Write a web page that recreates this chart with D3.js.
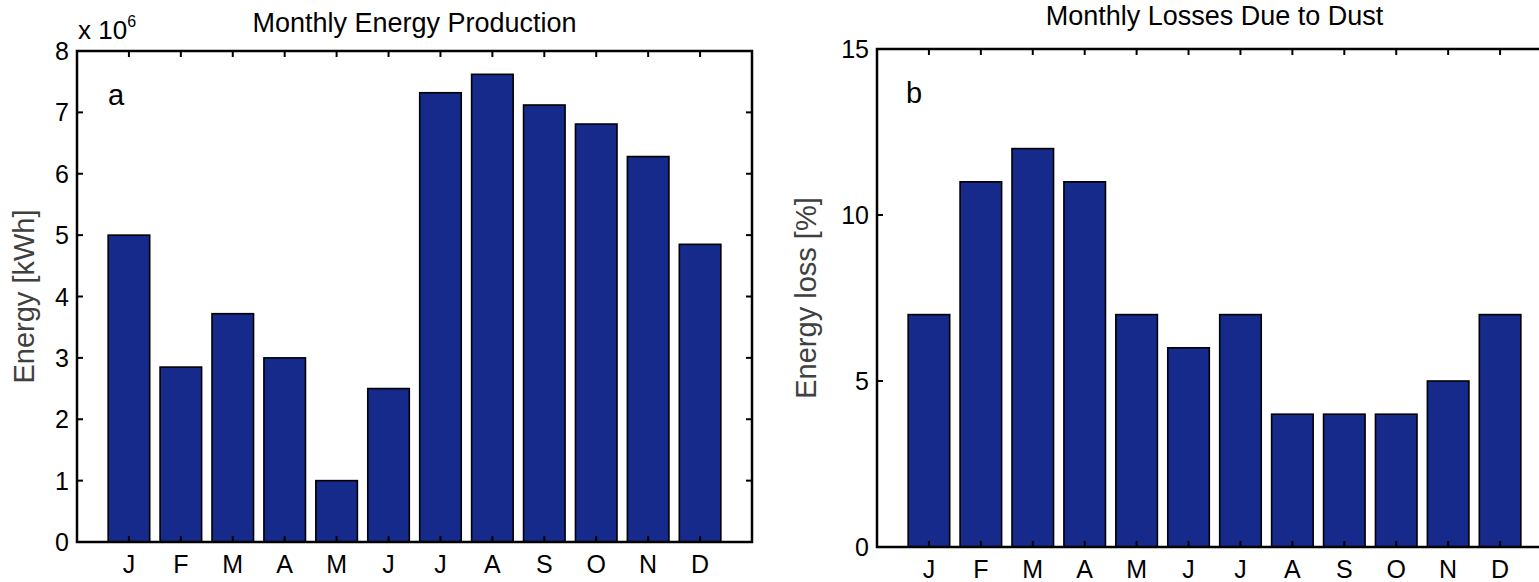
<!DOCTYPE html>
<html>
<head>
<meta charset="utf-8">
<script src="https://cdn.jsdelivr.net/npm/d3@7"></script>
<style>
  body { margin: 0; background: #fff; }
  svg { display: block; font-family: "Liberation Sans", Arial, sans-serif; }
</style>
</head>
<body>
<svg id="chart" width="1539" height="582"></svg>
<script>
// month labels
const months = ["J", "F", "M", "A", "M", "J", "J", "A", "S", "O", "N", "D"];
// panel a: energy in units of 10^6 kWh
const energyValues = [5.0, 2.85, 3.72, 3.0, 1.0, 2.5, 7.32, 7.62, 7.12, 6.81, 6.28, 4.85];
const energyTicks = [0, 1, 2, 3, 4, 5, 6, 7, 8];
// panel b: loss in %
const lossValues = [7, 11, 12, 11, 7, 6, 7, 4, 4, 4, 5, 7];
const lossTicks = [0, 5, 10, 15];

const svg = d3.select("#chart");
const barColor = "#152a8a";

function drawPanel(opts) {
    let g = svg.append("g");

    let x = d3.scaleLinear().domain([0, 13]).range([opts.left, opts.right]);
    let y = d3.scaleLinear().domain([0, opts.ymax]).range([opts.bottom, opts.top]);
    let bw = (x(1) - x(0)) * 0.8;

    // bars
    g.selectAll("rect.bar")
        .data(opts.values)
        .join("rect")
        .attr("class", "bar")
        .attr("x", (d, i) => x(i + 1) - bw / 2)
        .attr("y", d => y(d))
        .attr("width", bw)
        .attr("height", d => y(0) - y(d))
        .attr("fill", barColor)
        .attr("stroke", "#000")
        .attr("stroke-width", 1.6);

    // inward ticks on all four sides (matlab box style)
    let tl = 6;
    let ticks = g.append("g");
    opts.yticks.forEach(t => {
        ticks.append("line")
            .attr("x1", opts.left).attr("x2", opts.left + tl)
            .attr("y1", y(t)).attr("y2", y(t));
        ticks.append("line")
            .attr("x1", opts.right).attr("x2", opts.right - tl)
            .attr("y1", y(t)).attr("y2", y(t));
    });
    d3.range(1, 13).forEach(i => {
        ticks.append("line")
            .attr("x1", x(i)).attr("x2", x(i))
            .attr("y1", opts.top).attr("y2", opts.top + tl);
        ticks.append("line")
            .attr("x1", x(i)).attr("x2", x(i))
            .attr("y1", opts.bottom).attr("y2", opts.bottom - tl);
    });
    ticks.selectAll("line").attr("stroke", "#000").attr("stroke-width", 2);

    // box
    g.append("rect")
        .attr("x", opts.left).attr("y", opts.top)
        .attr("width", opts.right - opts.left)
        .attr("height", opts.bottom - opts.top)
        .attr("fill", "none")
        .attr("stroke", "#000")
        .attr("stroke-width", 2.5);

    // tick labels
    g.selectAll("text.ylab")
        .data(opts.yticks)
        .join("text")
        .attr("class", "ylab")
        .attr("x", opts.left - 8)
        .attr("y", d => y(d))
        .attr("dy", "0.36em")
        .attr("text-anchor", "end")
        .attr("font-size", 25)
        .text(d => d);

    g.selectAll("text.xlab")
        .data(months)
        .join("text")
        .attr("class", "xlab")
        .attr("x", (d, i) => x(i + 1))
        .attr("y", opts.bottom + 31)
        .attr("text-anchor", "middle")
        .attr("font-size", 25)
        .text(d => d);

    // title
    g.append("text")
        .attr("x", (opts.left + opts.right) / 2)
        .attr("y", opts.titleY)
        .attr("text-anchor", "middle")
        .attr("font-size", 27)
        .text(opts.title);

    // axis label
    g.append("text")
        .attr("transform", `translate(${opts.ylabelX},${(opts.top + opts.bottom) / 2}) rotate(-90)`)
        .attr("text-anchor", "middle")
        .attr("font-size", 29)
        .attr("fill", "#404040")
        .text(opts.ylabel);

    // panel letter
    g.append("text")
        .attr("x", opts.left + opts.letterDx)
        .attr("y", opts.top + 54)
        .attr("font-size", 29)
        .text(opts.letter);

    return g;
}

let pa = drawPanel({
    left: 77, right: 752, top: 51, bottom: 542,
    ymax: 8, values: energyValues, yticks: energyTicks,
    title: "Monthly Energy Production", titleY: 32,
    ylabel: "Energy [kWh]", ylabelX: 34, letter: "a", letterDx: 31
});

// exponent label
let expo = pa.append("text").attr("x", 78).attr("y", 39).attr("font-size", 26);
expo.append("tspan").text("x 10");
expo.append("tspan").attr("dy", -12).attr("font-size", 16).text("6");

drawPanel({
    left: 877, right: 1552, top: 49, bottom: 547,
    ymax: 15, values: lossValues, yticks: lossTicks,
    title: "Monthly Losses Due to Dust", titleY: 25,
    ylabel: "Energy loss [%]", ylabelX: 816, letter: "b", letterDx: 29
});
</script>
</body>
</html>
